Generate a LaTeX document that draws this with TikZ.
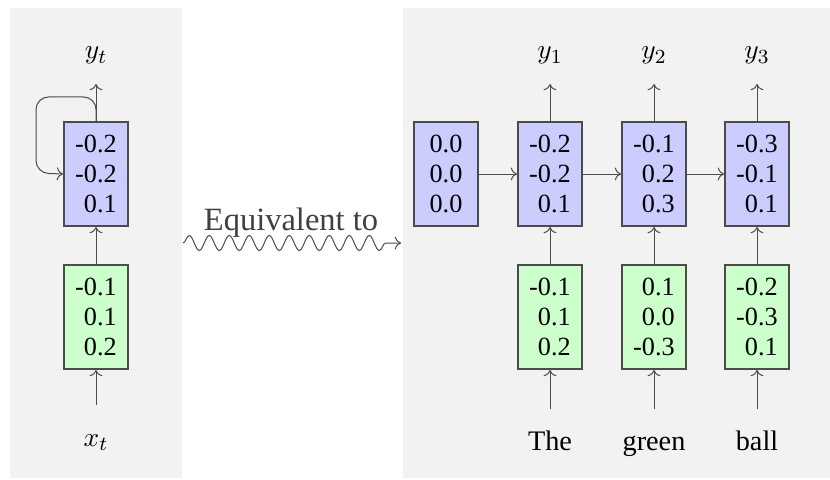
\documentclass[tikz,border=0pt]{standalone}
\usepackage{fontspec}
\setmainfont{Liberation Serif}
\usetikzlibrary{arrows.meta, decorations.pathmorphing}

\begin{document}
\begin{tikzpicture}[x=0.4pt, y=-0.4pt,
        panel/.style={fill=gray!10, draw=none},
        cell/.style={rectangle, draw=black!70, thick, minimum width=25.6pt, minimum height=41.6pt, align=right, inner sep=0pt, font=\fontsize{10.5}{12}\selectfont},
        hid/.style={cell, fill=blue!20},
        inp/.style={cell, fill=green!20},
        arrow/.style={->, draw=black!70},
        outlbl/.style={anchor=base, text height=5.5pt, text depth=2pt, inner sep=0pt, outer sep=8pt, font=\fontsize{11.3}{13.6}\selectfont},
        word/.style={anchor=base, text height=7.5pt, text depth=2pt, inner sep=0pt, outer sep=9pt, font=\fontsize{11.3}{13.6}\selectfont},
        snk/.style={->, draw=black!70, decorate, decoration={snake, amplitude=3pt, segment length=8pt, post length=2mm}}
    ]
        \useasboundingbox (0,0) rectangle (830,479);
        % background panels
        \fill[panel] (10,8) rectangle (182,478);
        \fill[panel] (403,8) rectangle (830,478);

        % rolled network
        \node[hid] (hb) at (96,174) {-0.2\\-0.2\\0.1};
        \node[inp] (xb) at (96,317) {-0.1\\0.1\\0.2};
        \node[outlbl] (yt) at (96,59) {$y_t$};
        \node[word] (xt) at (96,446) {$x_t$};

        \draw[arrow] (hb) -- (yt);
        \draw[arrow] (xb) -- (hb);
        \draw[arrow] (xt) -- (xb);
        \draw[arrow, rounded corners=5pt] (hb.north) -- ++(0,-24) -- ++(-60,0) -- ++(0,76) -- (hb.west);

        % equivalence
        \node[anchor=base, text=black!75, font=\fontsize{13}{15}\selectfont] (eq) at (291,230) {Equivalent to};
        \coordinate (ss) at (183,243);
        \coordinate (se) at (401,243);
        \begin{scope}[x=1pt, y=1pt]
            \draw[snk] (ss) -- (se);
        \end{scope}

        % unrolled network
        \node[hid] (h0) at (446,174) {0.0\\0.0\\0.0};
        \node[hid] (h1) at (550,174) {-0.2\\-0.2\\0.1};
        \node[hid] (h2) at (654,174) {-0.1\\0.2\\0.3};
        \node[hid] (h3) at (757,174) {-0.3\\-0.1\\0.1};

        \node[inp] (x1) at (550,317) {-0.1\\0.1\\0.2};
        \node[inp] (x2) at (654,317) {0.1\\0.0\\-0.3};
        \node[inp] (x3) at (757,317) {-0.2\\-0.3\\0.1};

        \node[outlbl] (y1) at (550,59) {$y_1$};
        \node[outlbl] (y2) at (654,59) {$y_2$};
        \node[outlbl] (y3) at (757,59) {$y_3$};

        \node[word] (w1) at (550,450) {The};
        \node[word] (w2) at (654,450) {green};
        \node[word] (w3) at (757,450) {ball};

        \draw[arrow] (h0) -- (h1);
        \draw[arrow] (h1) -- (h2);
        \draw[arrow] (h2) -- (h3);

        \draw[arrow] (h1) -- (y1);
        \draw[arrow] (h2) -- (y2);
        \draw[arrow] (h3) -- (y3);

        \draw[arrow] (x1) -- (h1);
        \draw[arrow] (x2) -- (h2);
        \draw[arrow] (x3) -- (h3);

        \draw[arrow] (w1) -- (x1);
        \draw[arrow] (w2) -- (x2);
        \draw[arrow] (w3) -- (x3);
    \end{tikzpicture}
\end{document}
